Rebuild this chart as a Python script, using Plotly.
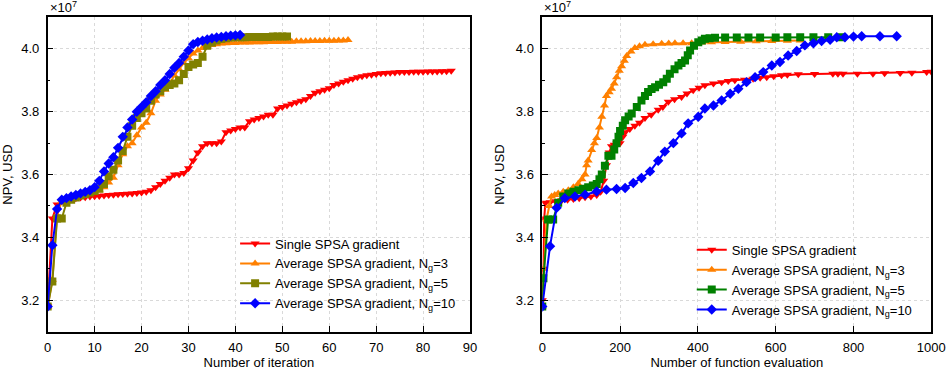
import plotly.graph_objects as go

# ---------------- Left panel: NPV (x1e7 USD) vs iteration ----------------
iter_single = list(range(0, 87))
npv_single_it = [3.18, 3.46, 3.505, 3.515, 3.52, 3.522, 3.525, 3.527, 3.528, 3.53,
                 3.531, 3.532, 3.533, 3.535, 3.536, 3.537, 3.538, 3.539, 3.54, 3.541,
                 3.543, 3.545, 3.55, 3.56, 3.57, 3.58, 3.59, 3.60, 3.60, 3.605,
                 3.62, 3.645, 3.67, 3.69, 3.70, 3.70, 3.70, 3.705, 3.735, 3.74,
                 3.745, 3.75, 3.75, 3.77, 3.775, 3.78, 3.785, 3.79, 3.79, 3.81,
                 3.815, 3.82, 3.825, 3.83, 3.835, 3.84, 3.85, 3.86, 3.865, 3.87,
                 3.875, 3.885, 3.89, 3.895, 3.90, 3.905, 3.91, 3.913, 3.916, 3.918,
                 3.92, 3.922, 3.923, 3.924, 3.925, 3.926, 3.926, 3.926, 3.927, 3.927,
                 3.927, 3.928, 3.928, 3.928, 3.929, 3.929, 3.93]

iter_ng3 = list(range(0, 65))
npv_ng3_it = [3.18, 3.265, 3.47, 3.515, 3.525, 3.53, 3.535, 3.537, 3.54, 3.543,
              3.546, 3.55, 3.56, 3.575, 3.59, 3.63, 3.665, 3.69, 3.70, 3.725,
              3.75, 3.765, 3.795, 3.835, 3.855, 3.87, 3.89, 3.915, 3.935, 3.955,
              3.97, 3.985, 3.995, 4.003, 4.008, 4.012, 4.015, 4.017, 4.018, 4.019,
              4.019, 4.02, 4.02, 4.02, 4.021, 4.021, 4.021, 4.022, 4.022, 4.022,
              4.023, 4.023, 4.023, 4.024, 4.024, 4.024, 4.025, 4.025, 4.025, 4.026,
              4.026, 4.026, 4.027, 4.027, 4.028]

iter_ng5 = list(range(0, 52))
npv_ng5_it = [3.18, 3.26, 3.46, 3.46, 3.51, 3.52, 3.527, 3.533, 3.538, 3.543,
              3.548, 3.555, 3.57, 3.595, 3.615, 3.645, 3.675, 3.72, 3.755, 3.78,
              3.795, 3.81, 3.835, 3.855, 3.865, 3.878, 3.885, 3.89, 3.90, 3.92,
              3.942, 3.95, 3.955, 3.975, 4.01, 4.02, 4.027, 4.031, 4.034, 4.036,
              4.037, 4.037, 4.037, 4.038, 4.038, 4.038, 4.038, 4.038, 4.039, 4.039,
              4.039, 4.039]

iter_ng10 = list(range(0, 42))
npv_ng10_it = [3.18, 3.375, 3.49, 3.52, 3.525, 3.53, 3.535, 3.54, 3.545, 3.55,
               3.56, 3.58, 3.61, 3.635, 3.655, 3.685, 3.72, 3.75, 3.775, 3.80,
               3.815, 3.83, 3.85, 3.865, 3.885, 3.90, 3.92, 3.94, 3.955, 3.975,
               3.995, 4.015, 4.022, 4.026, 4.03, 4.034, 4.036, 4.038, 4.04, 4.042,
               4.043, 4.044]

# ---------------- Right panel: NPV (x1e7 USD) vs function evaluations ----------------
fe_single = [0, 3, 5, 8, 20, 35, 50, 65, 80, 95, 110, 125, 140, 150, 158, 165, 172, 178,
             185, 192, 200, 207, 213, 225, 238, 250, 264, 280, 298, 310, 324, 340, 358,
             372, 388, 403, 418, 440, 461, 478, 495, 520, 542, 560, 577, 595, 615, 630,
             658, 700, 747, 760, 773, 810, 850, 880, 920, 950, 988, 1000]
npv_single_fe = [3.20, 3.30, 3.46, 3.51, 3.512, 3.515, 3.518, 3.52, 3.522, 3.525, 3.528,
                 3.53, 3.535, 3.545, 3.58, 3.63, 3.67, 3.69, 3.695, 3.70, 3.70, 3.72,
                 3.735, 3.745, 3.755, 3.765, 3.78, 3.79, 3.806, 3.815, 3.832, 3.84,
                 3.847, 3.858, 3.868, 3.876, 3.884, 3.89, 3.894, 3.898, 3.90, 3.902,
                 3.905, 3.908, 3.91, 3.913, 3.916, 3.918, 3.919, 3.92, 3.921, 3.921,
                 3.921, 3.921, 3.921, 3.922, 3.923, 3.924, 3.926, 3.927]

fe_ng3 = [0, 4, 11, 18, 24, 32, 41, 54, 67, 80, 92, 102, 110, 114, 118, 127, 134, 140,
          147, 153, 160, 165, 172, 178, 185, 191, 198, 204, 211, 217, 228, 238, 250, 264,
          285, 307, 325, 341, 362, 384, 410, 435, 470, 510, 550, 590, 630, 663]
npv_ng3_fe = [3.18, 3.30, 3.457, 3.50, 3.53, 3.535, 3.54, 3.545, 3.55, 3.56, 3.57, 3.585,
              3.60, 3.63, 3.645, 3.678, 3.70, 3.716, 3.75, 3.784, 3.82, 3.85, 3.862,
              3.873, 3.89, 3.91, 3.93, 3.945, 3.962, 3.977, 3.992, 4.003, 4.008, 4.013,
              4.015, 4.016, 4.017, 4.018, 4.018, 4.018, 4.02, 4.021, 4.022, 4.023,
              4.024, 4.025, 4.026, 4.027]

fe_ng5 = [0, 3, 15, 28, 41, 54, 67, 80, 93, 105, 118, 130, 140, 147, 153, 161, 170, 178,
          185, 191, 196, 200, 207, 213, 222, 230, 243, 255, 264, 272, 281, 290, 300, 311,
          320, 328, 340, 350, 358, 367, 374, 380, 390, 401, 410, 418, 430, 444, 470,
          500, 530, 560, 600, 630, 663, 697, 735, 770]
npv_ng5_fe = [3.18, 3.27, 3.457, 3.457, 3.51, 3.53, 3.54, 3.545, 3.55, 3.555, 3.56, 3.565,
              3.57, 3.585, 3.60, 3.628, 3.66, 3.66, 3.68, 3.70, 3.72, 3.739, 3.755,
              3.773, 3.785, 3.794, 3.815, 3.836, 3.85, 3.863, 3.872, 3.878, 3.886,
              3.894, 3.905, 3.921, 3.935, 3.947, 3.955, 3.963, 3.98, 3.995, 4.01,
              4.021, 4.027, 4.032, 4.034, 4.035, 4.036, 4.036, 4.036, 4.036, 4.036,
              4.037, 4.037, 4.037, 4.037, 4.037]

fe_ng10 = [0, 20, 37, 58, 84, 110, 140, 165, 191, 213, 234, 255, 277, 298, 315, 337, 358,
           375, 401, 418, 440, 461, 483, 504, 525, 547, 568, 590, 611, 632, 654, 675,
           697, 718, 740, 757, 778, 800, 821, 868, 911]
npv_ng10_fe = [3.18, 3.372, 3.494, 3.525, 3.53, 3.536, 3.546, 3.552, 3.554, 3.557, 3.573,
               3.589, 3.61, 3.644, 3.673, 3.70, 3.731, 3.763, 3.784, 3.81, 3.82, 3.836,
               3.857, 3.873, 3.894, 3.91, 3.926, 3.947, 3.958, 3.979, 3.993, 4.011,
               4.018, 4.025, 4.029, 4.037, 4.037, 4.039, 4.04, 4.04, 4.04]

series_names = ["Single SPSA gradient",
                "Average SPSA gradient, N<sub>g</sub>=3",
                "Average SPSA gradient, N<sub>g</sub>=5",
                "Average SPSA gradient, N<sub>g</sub>=10"]
x_ticks_left = [0, 10, 20, 30, 40, 50, 60, 70, 80, 90]
x_ticks_right = [0, 200, 400, 600, 800, 1000]
y_ticks = [3.2, 3.4, 3.6, 3.8, 4.0]

FONT = "Liberation Sans, Arial, sans-serif"
symbols = ["triangle-down", "triangle-up", "square", "diamond"]
colors_left = ["#FF0000", "#FF8000", "#808000", "#0000FF"]
colors_right = ["#FF0000", "#FF8000", "#008000", "#0000FF"]

fig = go.Figure()

left_data = [(iter_single, npv_single_it), (iter_ng3, npv_ng3_it),
             (iter_ng5, npv_ng5_it), (iter_ng10, npv_ng10_it)]
right_data = [(fe_single, npv_single_fe), (fe_ng3, npv_ng3_fe),
              (fe_ng5, npv_ng5_fe), (fe_ng10, npv_ng10_fe)]

for i, (xs, ys) in enumerate(left_data):
    fig.add_trace(go.Scatter(
        x=xs, y=ys, mode="lines+markers", name=series_names[i],
        line=dict(color=colors_left[i], width=2),
        marker=dict(symbol=symbols[i], size=8, color=colors_left[i]),
        xaxis="x", yaxis="y", legend="legend"))

for i, (xs, ys) in enumerate(right_data):
    fig.add_trace(go.Scatter(
        x=xs, y=ys, mode="lines+markers", name=series_names[i],
        line=dict(color=colors_right[i], width=2),
        marker=dict(symbol=symbols[i], size=8, color=colors_right[i]),
        xaxis="x2", yaxis="y2", legend="legend2"))

axis_common = dict(
    showline=True, linecolor="black", linewidth=1.5, mirror=True,
    ticks="inside", ticklen=6, tickwidth=1.3, tickcolor="black",
    showgrid=True, gridcolor="#d9d9d9", griddash="dot", gridwidth=1,
    zeroline=False, automargin=False,
    tickfont=dict(family=FONT, size=13, color="black"),
)

yaxis_common = dict(axis_common, range=[3.1, 4.1], tickvals=y_ticks,
                    tickformat=".1f", ticklabelstandoff=4,
                    minor=dict(dtick=0.1, tick0=3.1, ticks="inside", ticklen=3,
                               tickcolor="black", showgrid=False),
                    title=dict(text="NPV, USD", font=dict(family=FONT, size=13, color="black"),
                               standoff=8))

fig.update_layout(
    width=948, height=371,
    margin=dict(l=0, r=0, t=0, b=0, autoexpand=False),
    paper_bgcolor="white", plot_bgcolor="white",
    font=dict(family=FONT, color="black"),
    xaxis=dict(axis_common, domain=[0.0503, 0.4958], range=[0, 90], tickvals=x_ticks_left,
               anchor="y", ticklabelstandoff=3,
               title=dict(text="Number of iteration",
                          font=dict(family=FONT, size=13, color="black"), standoff=4)),
    yaxis=dict(yaxis_common, domain=[0.106, 0.953], anchor="x"),
    xaxis2=dict(axis_common, domain=[0.572, 0.9824], range=[0, 1000], tickvals=x_ticks_right,
                anchor="y2", ticklabelstandoff=3,
                title=dict(text="Number of function evaluation",
                           font=dict(family=FONT, size=13, color="black"), standoff=4)),
    yaxis2=dict(yaxis_common, domain=[0.106, 0.953], anchor="x2"),
    legend=dict(x=0.248, y=0.384, xanchor="left", yanchor="top",
                bgcolor="rgba(0,0,0,0)", borderwidth=0, tracegroupgap=0,
                font=dict(family=FONT, size=13, color="black"), itemwidth=30),
    legend2=dict(x=0.7297, y=0.367, xanchor="left", yanchor="top",
                 bgcolor="rgba(0,0,0,0)", borderwidth=0, tracegroupgap=0,
                 font=dict(family=FONT, size=13, color="black"), itemwidth=30),
    annotations=[
        dict(text="×10<sup>7</sup>", x=0.0503, y=0.953, xref="paper", yref="paper",
             xanchor="left", yanchor="bottom", showarrow=False,
             font=dict(family=FONT, size=13, color="black")),
        dict(text="×10<sup>7</sup>", x=0.572, y=0.953, xref="paper", yref="paper",
             xanchor="left", yanchor="bottom", showarrow=False,
             font=dict(family=FONT, size=13, color="black")),
    ],
)

fig.write_html(
    "out.html",
    config={"displayModeBar": False},
    post_script="document.body.style.margin='0px';document.body.style.overflow='hidden';",
)
